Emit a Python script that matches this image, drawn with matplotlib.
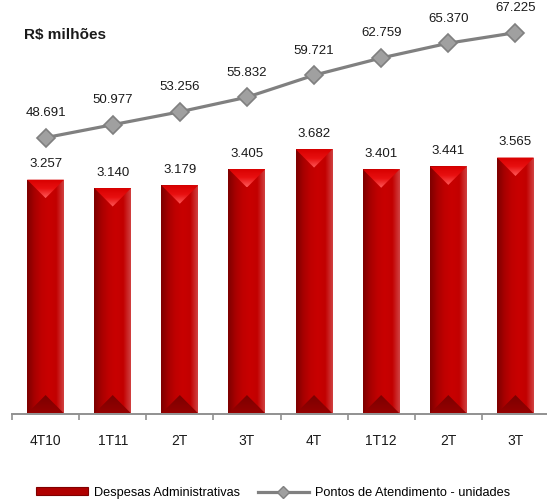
import matplotlib
matplotlib.use("Agg")
import matplotlib.pyplot as plt
import numpy as np
from matplotlib.colors import LinearSegmentedColormap
from matplotlib.patches import Rectangle, Polygon
from matplotlib.lines import Line2D

plt.rcParams['font.family'] = ['Liberation Sans', 'DejaVu Sans']

quarters = ['4T10', '1T11', '2T', '3T', '4T', '1T12', '2T', '3T']
despesas = [3257, 3140, 3179, 3405, 3682, 3401, 3441, 3565]          # R$ milhões
pontos = [48691, 50977, 53256, 55832, 59721, 62759, 65370, 67225]    # unidades


def fmt_br(v):
    return f"{v:,}".replace(",", ".")


W, H = 547, 503
AX_BOTTOM, AX_H = 89.5, 392
fig = plt.figure(figsize=(W / 100, H / 100), dpi=100)
ax = fig.add_axes([12 / W, AX_BOTTOM / H, 537 / W, AX_H / H])
ax2 = ax.twinx()

bar_w = 0.55
x = np.arange(len(quarters))

# shading maps for the bevelled bars
side_cmap = LinearSegmentedColormap.from_list(
    'side', ['#7e0000', '#a80000', '#c00000', '#c80000', '#c20000', '#d04040'])
top_cmap = LinearSegmentedColormap.from_list('top', ['#ff5a5a', '#e81010', '#d80000'])
bot_cmap = LinearSegmentedColormap.from_list('bot', ['#960000', '#7a0000'])

ymax_bar = AX_H / 71.8 * 1000
ymax_line = AX_H / 5.665 * 1000
ax.set_xlim(-0.5, len(quarters) - 0.5)
ax.set_ylim(0, ymax_bar)

# bevel depth: half the bar width, in data units of the bar axis
px_per_x = 537 / len(quarters)
px_per_y = AX_H / ymax_bar
depth = (bar_w / 2) * px_per_x / px_per_y

grad_h = np.linspace(0, 1, 64).reshape(1, -1)
grad_v = np.linspace(0, 1, 64).reshape(-1, 1)

for xi, v in zip(x, despesas):
    x0, x1 = xi - bar_w / 2, xi + bar_w / 2
    rect = Rectangle((x0, 0), bar_w, v, facecolor='none', edgecolor='none')
    ax.add_patch(rect)
    im = ax.imshow(grad_h, cmap=side_cmap, extent=(x0, x1, 0, v),
                   aspect='auto', origin='lower', zorder=2)
    im.set_clip_path(rect)

    tri_top = Polygon([(x0, v), (x1, v), (xi, v - depth)], closed=True,
                      facecolor='none', edgecolor='none')
    ax.add_patch(tri_top)
    im = ax.imshow(grad_v, cmap=top_cmap, extent=(x0, x1, v - depth, v),
                   aspect='auto', origin='lower', zorder=3)
    im.set_clip_path(tri_top)

    tri_bot = Polygon([(x0, 0), (x1, 0), (xi, depth)], closed=True,
                      facecolor='none', edgecolor='none')
    ax.add_patch(tri_bot)
    im = ax.imshow(grad_v, cmap=bot_cmap, extent=(x0, x1, 0, depth),
                   aspect='auto', origin='lower', zorder=3)
    im.set_clip_path(tri_bot)

    ax.annotate(fmt_br(v), (xi, v), xytext=(0, 9), textcoords='offset points',
                ha='center', va='baseline', fontsize=9.5, color='#1a1a1a')

ax.set_xlim(-0.5, len(quarters) - 0.5)
ax.set_ylim(0, ymax_bar)

ax2.plot(x, pontos, color='#808080', lw=2.3, marker='D', ms=9,
         markerfacecolor='#a0a0a0', markeredgecolor='#808080', mew=1.2, zorder=5)
for xi, v in zip(x, pontos):
    ax2.annotate(fmt_br(v), (xi, v), xytext=(0, 15.5), textcoords='offset points',
                 ha='center', va='baseline', fontsize=9.5, color='#1a1a1a')
ax2.set_ylim(0, ymax_line)

for a in (ax, ax2):
    for side in ('top', 'left', 'right'):
        a.spines[side].set_visible(False)
    a.set_yticks([])
ax2.spines['bottom'].set_visible(False)
ax.spines['bottom'].set_color('#909090')
ax.spines['bottom'].set_linewidth(1.4)

ax.set_xticks(x)
ax.set_xticklabels(quarters, fontsize=10, color='#1a1a1a')
ax.tick_params(axis='x', which='major', length=0, pad=15)
ax.set_xticks(np.arange(-0.5, len(quarters)), minor=True)
ax.tick_params(axis='x', which='minor', length=4, width=1.2, color='#909090')

fig.text(24 / W, 1 - 39.5 / H, 'R$ milhões', fontsize=11, fontweight='bold',
         va='baseline', color='#1a1a1a')

handles = [
    Rectangle((0, 0), 1, 1, facecolor='#b00000', edgecolor='#800000', lw=0.8),
    Line2D([], [], color='#808080', lw=2.3, marker='D', ms=6,
           markerfacecolor='#a0a0a0', markeredgecolor='#808080'),
]
fig.legend(handles, ['Despesas Administrativas', 'Pontos de Atendimento - unidades'],
           loc='center', bbox_to_anchor=(0.5, 0.02), ncol=2, frameon=False,
           fontsize=9.2, handlelength=4, handleheight=0.6, handletextpad=0.5,
           columnspacing=1.4)

fig.savefig('out.png', dpi=100)
